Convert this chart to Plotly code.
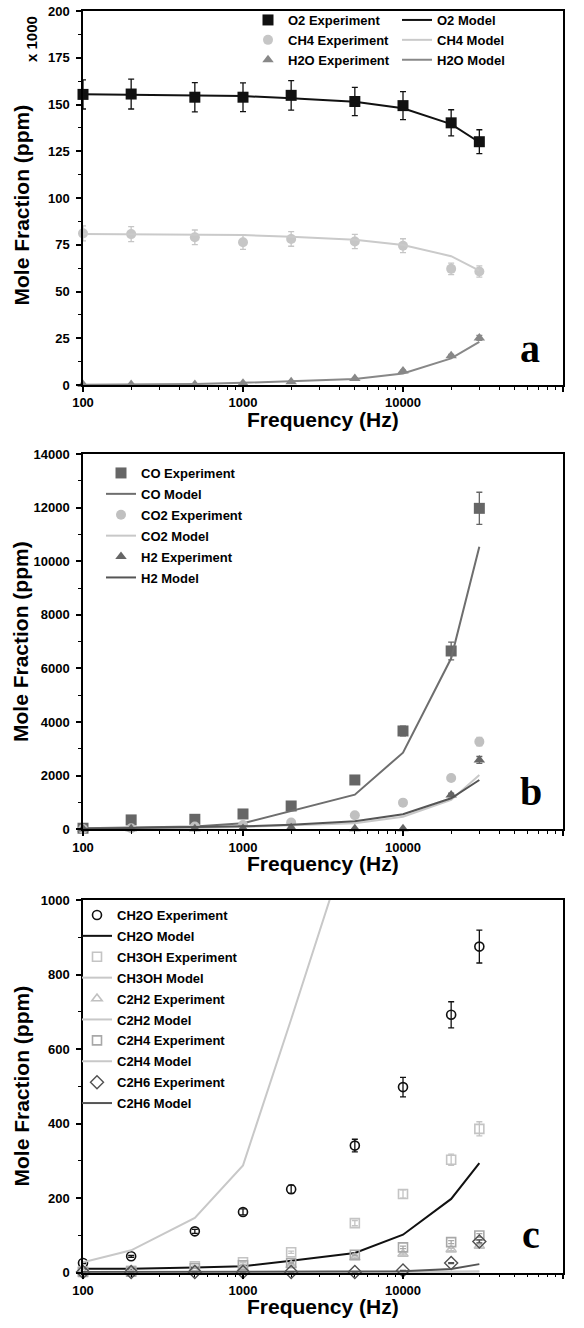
import plotly.graph_objects as go

# ---------------- data ----------------
FREQ = [100, 200, 500, 1000, 2000, 5000, 10000, 20000, 30000]
X_TICKS = [100, 1000, 10000, 100000]
X_TICK_TEXT = ["100", "1000", "10000", "100000"]
X_MINOR = [m * 10 ** d for d in (2, 3, 4) for m in range(2, 10)]

# panel a (x 1000 ppm)
A_Y_TICKS = [0, 25, 50, 75, 100, 125, 150, 175, 200]
A_Y_TICK_TEXT = ["0", "25", "50", "75", "100", "125", "150", "175", "200"]
O2_EXP = [155.4, 155.6, 153.9, 153.9, 154.9, 151.6, 149.4, 140.2, 130.1]
O2_EXP_ERR = [7.8, 8.0, 7.8, 7.7, 7.9, 7.6, 7.5, 7.0, 6.4]
O2_MODEL = [155.5, 155.3, 154.8, 154.5, 153.4, 151.5, 148.0, 139.5, 129.8]
CH4_EXP = [81.1, 80.7, 79.0, 76.3, 78.1, 76.7, 74.5, 62.1, 60.7]
CH4_EXP_ERR = [4.0, 4.0, 3.9, 3.8, 3.9, 3.8, 3.7, 3.1, 3.0]
CH4_MODEL = [80.7, 80.6, 80.4, 80.2, 79.3, 77.7, 74.9, 68.9, 61.2]
H2O_EXP = [0.3, 0.3, 0.3, 0.9, 1.8, 3.5, 7.5, 15.6, 25.2]
H2O_EXP_ERR = [0.02, 0.02, 0.02, 0.05, 0.1, 0.2, 0.4, 0.8, 1.3]
H2O_MODEL = [0.2, 0.3, 0.5, 1.2, 2.1, 3.2, 6.2, 14.2, 23.1]

# panel b (ppm)
B_Y_TICKS = [0, 2000, 4000, 6000, 8000, 10000, 12000, 14000]
B_Y_TICK_TEXT = ["0", "2000", "4000", "6000", "8000", "10000", "12000", "14000"]
CO_EXP = [40, 350, 373, 572, 870, 1840, 3668, 6652, 11973]
CO_EXP_ERR = [2, 18, 19, 29, 44, 92, 180, 330, 600]
CO_MODEL = [40, 60, 100, 224, 696, 1293, 2860, 6378, 10543]
CO2_EXP = [10, 40, 100, 160, 250, 522, 995, 1915, 3270]
CO2_EXP_ERR = [0.5, 2, 5, 8, 12, 26, 50, 96, 160]
CO2_MODEL = [10, 25, 50, 90, 140, 230, 472, 1094, 2027]
H2_EXP = [10, 20, 20, 30, 60, 20, 20, 1280, 2586]
H2_EXP_ERR = [0.5, 1, 1, 1.5, 3, 1, 1, 64, 130]
H2_MODEL = [20, 40, 80, 110, 170, 300, 560, 1156, 1840]

# panel c (ppm)
C_Y_TICKS = [0, 200, 400, 600, 800, 1000]
C_Y_TICK_TEXT = ["0", "200", "400", "600", "800", "1000"]
CH2O_EXP = [26, 44, 111, 163, 224, 341, 498, 692, 875]
CH2O_EXP_ERR = [1.5, 2.5, 5.5, 8, 11, 17, 26, 35, 44]
CH2O_MODEL = [10.7, 10.7, 14, 17, 32, 53, 102, 198, 294]
CH3OH_EXP = [3, 5, 17, 28, 55, 133, 211, 303, 386]
CH3OH_EXP_ERR = [0.2, 0.3, 1, 1.5, 3, 7, 11, 15, 19]
CH3OH_MODEL = [28, 60, 147, 288, 680, 1210, 2100, 3400, 4300]
C2H2_EXP = [1, 2, 6, 12, 20, 40, 50, 62, 72]
C2H2_EXP_ERR = [0.1, 0.1, 0.3, 0.6, 1, 2, 2.5, 3, 3.6]
C2H2_MODEL = [0.1, 0.2, 0.4, 0.6, 0.9, 1.3, 1.8, 2.4, 3.0]
C2H4_EXP = [2, 3, 12, 20, 26, 48, 68, 82, 100]
C2H4_EXP_ERR = [0.1, 0.2, 0.6, 1, 1.3, 2.4, 3.4, 4.1, 5]
C2H4_MODEL = [0.2, 0.3, 0.5, 0.8, 1.1, 1.5, 2.0, 2.6, 3.2]
C2H6_EXP = [2, 2, 2, 2, 2, 2, 6, 26, 84]
C2H6_EXP_ERR = [0.1, 0.1, 0.1, 0.1, 0.1, 0.1, 0.3, 1.3, 4.2]
C2H6_MODEL = [2, 2, 2, 2, 2, 2.5, 3.6, 10, 23]

# ---------------- styling helpers ----------------
W, H = 584, 1328
SANS = "Liberation Sans, Arial, sans-serif"
SERIF = "Liberation Serif, Times New Roman, serif"


def px_x(p):
    return p / W


def px_y(p):
    return 1 - p / H


fig = go.Figure()


def exp_trace(ax, name, y, err, color, symbol, size, legend, lw=0, group=None):
    fig.add_trace(go.Scatter(
        x=FREQ, y=y, name=name, mode="markers", xaxis="x" + ax, yaxis="y" + ax,
        legend=legend, legendgroup=group,
        marker=dict(symbol=symbol, size=size, color=color,
                    line=dict(width=lw, color=color)),
        error_y=dict(type="data", array=err, visible=True, color=color,
                     thickness=1.3, width=3),
        cliponaxis=False,
    ))


def model_trace(ax, name, y, color, legend, width=2, group=None):
    fig.add_trace(go.Scatter(
        x=FREQ, y=y, name=name, mode="lines", xaxis="x" + ax, yaxis="y" + ax,
        legend=legend, legendgroup=group,
        line=dict(color=color, width=width),
    ))


# panel a
exp_trace("", "O2 Experiment", O2_EXP, O2_EXP_ERR, "#111111", "square", 11, "legend")
exp_trace("", "CH4 Experiment", CH4_EXP, CH4_EXP_ERR, "#c6c6c6", "circle", 10, "legend")
exp_trace("", "H2O Experiment", H2O_EXP, H2O_EXP_ERR, "#888888", "triangle-up", 10, "legend")
model_trace("", "O2 Model", O2_MODEL, "#111111", "legend2")
model_trace("", "CH4 Model", CH4_MODEL, "#cacaca", "legend2")
model_trace("", "H2O Model", H2O_MODEL, "#888888", "legend2")

# panel b
exp_trace("2", "CO Experiment", CO_EXP, CO_EXP_ERR, "#666666", "square", 11, "legend3", group="b1")
model_trace("2", "CO Model", CO_MODEL, "#6e6e6e", "legend3", group="b2")
exp_trace("2", "CO2 Experiment", CO2_EXP, CO2_EXP_ERR, "#c0c0c0", "circle", 10, "legend3", group="b3")
model_trace("2", "CO2 Model", CO2_MODEL, "#c8c8c8", "legend3", group="b4")
exp_trace("2", "H2 Experiment", H2_EXP, H2_EXP_ERR, "#666666", "triangle-up", 10, "legend3", group="b5")
model_trace("2", "H2 Model", H2_MODEL, "#555555", "legend3", group="b6")

# panel c
exp_trace("3", "CH2O Experiment", CH2O_EXP, CH2O_EXP_ERR, "#111111", "circle-open", 9, "legend4", lw=1.6, group="c1")
model_trace("3", "CH2O Model", CH2O_MODEL, "#111111", "legend4", group="c2")
exp_trace("3", "CH3OH Experiment", CH3OH_EXP, CH3OH_EXP_ERR, "#c4c4c4", "square-open", 9, "legend4", lw=1.6, group="c3")
model_trace("3", "CH3OH Model", CH3OH_MODEL, "#c8c8c8", "legend4", group="c4")
exp_trace("3", "C2H2 Experiment", C2H2_EXP, C2H2_EXP_ERR, "#c0c0c0", "triangle-up-open", 9, "legend4", lw=1.6, group="c5")
model_trace("3", "C2H2 Model", C2H2_MODEL, "#c8c8c8", "legend4", group="c6")
exp_trace("3", "C2H4 Experiment", C2H4_EXP, C2H4_EXP_ERR, "#a8a8a8", "square-open", 9, "legend4", lw=1.6, group="c7")
model_trace("3", "C2H4 Model", C2H4_MODEL, "#c8c8c8", "legend4", group="c8")
exp_trace("3", "C2H6 Experiment", C2H6_EXP, C2H6_EXP_ERR, "#505050", "diamond-open", 10, "legend4", lw=1.4, group="c9")
model_trace("3", "C2H6 Model", C2H6_MODEL, "#555555", "legend4", group="c10")

tickfont = dict(family=SANS, size=13, color="black", weight="bold")


def xaxis_cfg(anchor, domain):
    return dict(
        type="log", range=[2, 5], domain=domain, anchor=anchor,
        tickmode="array", tickvals=X_TICKS, ticktext=X_TICK_TEXT,
        ticks="outside", ticklen=5, tickwidth=1.5, tickcolor="black",
        minor=dict(tickmode="array", tickvals=X_MINOR, ticks="outside", ticklen=3,
                   tickwidth=1, tickcolor="black", showgrid=False),
        showline=True, linewidth=1.5, linecolor="black", mirror=True,
        showgrid=False, zeroline=False, tickfont=tickfont,
        automargin=False,
    )


def yaxis_cfg(anchor, domain, rng, ticks, ticktext):
    minor_vals = [(ticks[i] + ticks[i + 1]) / 2 for i in range(len(ticks) - 1)]
    return dict(
        range=rng, domain=domain, anchor=anchor,
        tickmode="array", tickvals=ticks, ticktext=ticktext,
        ticks="outside", ticklen=5, tickwidth=1.5, tickcolor="black",
        minor=dict(tickmode="array", tickvals=minor_vals, ticks="outside", ticklen=3,
                   tickwidth=1, tickcolor="black", showgrid=False),
        showline=True, linewidth=1.5, linecolor="black", mirror=True,
        showgrid=False, zeroline=False, tickfont=tickfont,
        ticklabelstandoff=4,
        automargin=False,
    )


XDOM = [px_x(83), px_x(563)]
DOM_A = [px_y(385), px_y(11)]
DOM_B = [px_y(829.3), px_y(454)]
DOM_C = [px_y(1272.7), px_y(900)]

legend_common = dict(font=dict(family=SANS, size=13, color="black", weight="bold"),
                     bgcolor="rgba(0,0,0,0)", borderwidth=0,
                     xanchor="left", yanchor="top", orientation="v")


def ann(text, x, y, size, family=SANS, angle=0):
    return dict(text=text, x=px_x(x), y=px_y(y), xref="paper", yref="paper",
                textangle=angle, showarrow=False, xanchor="center", yanchor="middle",
                font=dict(family=family, size=size, color="black", weight="bold"))


annotations = [
    ann("x 1000", 31, 39, 15, angle=-90),
    ann("a", 530, 348.5, 40, family=SERIF),
    ann("b", 531, 791.5, 40, family=SERIF),
    ann("c", 531, 1234.5, 40, family=SERIF),
]
for yc, xt in ((205, 419), (641.5, 863), (1086, 1306)):
    annotations.append(ann("Mole Fraction (ppm)", 20.5, yc, 21, angle=-90))
    annotations.append(ann("Frequency (Hz)", 323, xt, 21))

fig.update_layout(
    width=W, height=H,
    margin=dict(l=0, r=0, t=0, b=0),
    paper_bgcolor="white", plot_bgcolor="white",
    showlegend=True,
    xaxis=xaxis_cfg("y", XDOM),
    yaxis=yaxis_cfg("x", DOM_A, [0, 200], A_Y_TICKS, A_Y_TICK_TEXT),
    xaxis2=xaxis_cfg("y2", XDOM),
    yaxis2=yaxis_cfg("x2", DOM_B, [0, 14000], B_Y_TICKS, B_Y_TICK_TEXT),
    xaxis3=xaxis_cfg("y3", XDOM),
    yaxis3=yaxis_cfg("x3", DOM_C, [0, 1000], C_Y_TICKS, C_Y_TICK_TEXT),
    legend=dict(x=px_x(248), y=px_y(5), **legend_common),
    legend2=dict(x=px_x(397), y=px_y(5), **legend_common),
    legend3=dict(x=px_x(101), y=px_y(458), tracegroupgap=1, traceorder="grouped", **legend_common),
    legend4=dict(x=px_x(77), y=px_y(900), tracegroupgap=1, traceorder="grouped", **legend_common),
    annotations=annotations,
)

fig.write_html("out.html", config={"displayModeBar": False},
               post_script="document.body.style.margin='0px';")
